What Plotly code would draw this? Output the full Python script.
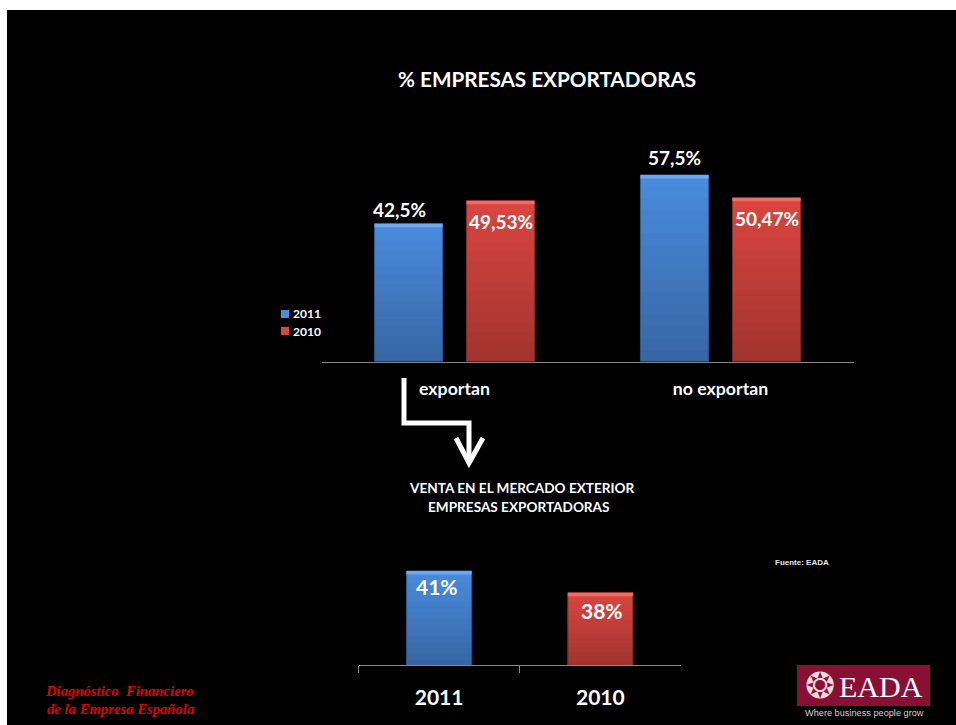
import plotly.graph_objects as go

W, H = 956, 725
CATS_TOP = ["exportan", "no exportan"]
V_2011 = [42.5, 57.5]
V_2010 = [49.53, 50.47]
L_2011 = ["42,5%", "57,5%"]
L_2010 = ["49,53%", "50,47%"]
CATS_BOT = ["2011", "2010"]
V_BOT = [41, 38]
L_BOT = ["41%", "38%"]

BLUE, RED = "#4a8cdf", "#dc4640"
BLUE_CAP, RED_CAP = "#6fa8ec", "#ee6e66"
BLUE_EDGE, RED_EDGE = "#2f5f9a", "#8c2b28"
SANS = "Lato, Carlito, 'Open Sans', sans-serif"


def px(x):
    return x / W


def py(y):
    return 1 - y / H


fig = go.Figure()
fig.add_bar(x=CATS_TOP, y=V_2011, name="2011", marker=dict(color=BLUE, line=dict(color=BLUE_EDGE, width=1)),
            xaxis="x", yaxis="y", showlegend=False, hoverinfo="skip")
fig.add_bar(x=CATS_TOP, y=V_2010, name="2010", marker=dict(color=RED, line=dict(color=RED_EDGE, width=1)),
            xaxis="x", yaxis="y", showlegend=False, hoverinfo="skip")
fig.add_bar(x=CATS_BOT, y=V_BOT, name="venta", marker=dict(color=[BLUE, RED], line=dict(color=[BLUE_EDGE, RED_EDGE], width=1)),
            xaxis="x2", yaxis="y2", showlegend=False, hoverinfo="skip")

shapes = []
# page background
shapes.append(dict(type="rect", xref="paper", yref="paper", x0=px(7), x1=1, y0=0, y1=py(10),
                   fillcolor="black", line_width=0, layer="below"))


def shade(xc, half, val, base, xr, yr, cap):
    n = 16
    for i in range(n):
        a = 0.27 * (1 - (i + 0.5) / n)
        shapes.append(dict(type="rect", xref=xr, yref=yr, x0=xc - half, x1=xc + half,
                           y0=base + (val - base) * i / n, y1=base + (val - base) * (i + 1) / n,
                           fillcolor=f"rgba(0,0,0,{a:.3f})", line_width=0, layer="above"))
    shapes.append(dict(type="rect", xref=xr, yref=yr, x0=xc - half, x1=xc + half,
                       ysizemode="pixel", yanchor=val, y0=-3.5, y1=0,
                       fillcolor=cap, line_width=0, layer="above"))


OFF, HALF = 46 / 266, 34 / 266
for i in range(2):
    shade(i - OFF, HALF, V_2011[i], 0, "x", "y", BLUE_CAP)
    shade(i + OFF, HALF, V_2010[i], 0, "x", "y", RED_CAP)
for i, v in enumerate(V_BOT):
    shade(i, 32.5 / 161, v, 28, "x2", "y2", [BLUE_CAP, RED_CAP][i])

# legend swatches
for yc, c in ((314, BLUE), (331, RED)):
    shapes.append(dict(type="rect", xref="paper", yref="paper", x0=px(281), x1=px(289),
                       y0=py(yc + 4), y1=py(yc - 4), fillcolor=c, line=dict(color=c, width=0)))

# arrow
WHITE = "white"
def pth(points):
    return "M" + " L".join(f"{px(a):.5f},{py(b):.5f}" for a, b in points)


shapes.append(dict(type="path", xref="paper", yref="paper",
                   path=pth([(404, 378), (404, 423), (469, 423), (469, 462)]),
                   line=dict(color=WHITE, width=5), fillcolor="rgba(0,0,0,0)"))
shapes.append(dict(type="path", xref="paper", yref="paper",
                   path=pth([(456, 438), (469, 463), (483, 438)]),
                   line=dict(color=WHITE, width=5), fillcolor="rgba(0,0,0,0)"))
# logo band
shapes.append(dict(type="rect", xref="paper", yref="paper", x0=px(797), x1=px(930), y0=py(706), y1=py(665),
                   fillcolor="#8a0f34", line_width=0))

ann = []


def T(text, x, y, size, color="white", family=SANS, anchor="center", bold=True, italic=False):
    s = text
    if bold:
        s = f"<b>{s}</b>"
    if italic:
        s = f"<i>{s}</i>"
    ann.append(dict(text=s, xref="paper", yref="paper", x=px(x), y=py(y), xanchor=anchor, yanchor="middle",
                    showarrow=False, font=dict(size=size, color=color, family=family)))


def L(text, xc, val, xr, yr, shift, size=19):
    ann.append(dict(text=f"<b>{text}</b>", xref=xr, yref=yr, x=xc, y=val, yanchor="middle", xanchor="center",
                    yshift=shift, showarrow=False, font=dict(size=size, color="white", family=SANS)))


L(L_2011[0], 0 - OFF - 9 / 266, V_2011[0], "x", "y", 14)
L(L_2011[1], 1 - OFF, V_2011[1], "x", "y", 18)
for i in range(2):
    L(L_2010[i], i + OFF, V_2010[i], "x", "y", -21)
L(L_BOT[0], 0 - 2 / 161, V_BOT[0], "x2", "y2", -15, 21)
L(L_BOT[1], 1 + 2 / 161, V_BOT[1], "x2", "y2", -18, 21)

T("2011", 291, 314, 12, anchor="left")
T("2010", 291, 331, 12, anchor="left")
T("% EMPRESAS EXPORTADORAS", 547, 79, 20.7)
T("VENTA EN EL MERCADO EXTERIOR", 522, 488, 13.6)
T("EMPRESAS EXPORTADORAS", 518.5, 507, 13.6)
T("Fuente: EADA", 773, 562, 8, "#e8e8e8", "Liberation Sans", "left")
RD = "#e00000"
T("Diagnóstico  Financiero", 43, 691, 14.7, RD, "Liberation Serif", "left", True, True)
T("de la Empresa Española", 45, 709, 14.7, RD, "Liberation Serif", "left", True, True)
T("❂", 820, 685, 36, "#f0d8dc", "DejaVu Sans", bold=False)
T("EADA", 881, 686, 30, "white", "Liberation Serif", bold=False)
T("Where business people grow", 864, 713, 9.2, "#d0d0d0", "Liberation Sans Narrow, Liberation Sans", bold=False)

fig.update_layout(
    width=W, height=H, margin=dict(l=0, r=0, t=0, b=0), paper_bgcolor="white", plot_bgcolor="rgba(0,0,0,0)",
    barmode="group", bargap=82 / 266, bargroupgap=24 / 92,
    shapes=shapes, annotations=ann, showlegend=False,
    xaxis=dict(domain=[px(321.5), px(853.5)], anchor="y", type="category", range=[-0.5, 1.5], showgrid=False,
               showline=True, linecolor="#868686", linewidth=1, ticks="", ticklabelstandoff=11,
               tickfont=dict(size=17.7, color="white", family=SANS), tickprefix="<b>", ticksuffix="</b>", zeroline=False),
    yaxis=dict(domain=[py(361.5), py(100)], anchor="x", range=[0, 261.5 / 3.243], visible=False),
    xaxis2=dict(domain=[px(358.5), px(681)], anchor="y2", type="category", range=[-0.5, 1.5], showgrid=False,
                showline=True, linecolor="#868686", linewidth=1, ticks="outside", tickson="boundaries", ticklen=7,
                tickcolor="#868686", ticklabelstandoff=14,
                tickfont=dict(size=21, color="white", family=SANS), tickprefix="<b>", ticksuffix="</b>", zeroline=False),
    yaxis2=dict(domain=[py(665), py(540)], anchor="x2", range=[28, 28 + 125 / 7.23], visible=False),
)
# bar gap for the lower chart differs from the upper one, so width is set per trace
fig.data[2].width = 65 / 161
fig.write_html("out.html", config=dict(displayModeBar=False),
               post_script="document.body.style.margin='0';document.body.style.overflow='hidden';")
